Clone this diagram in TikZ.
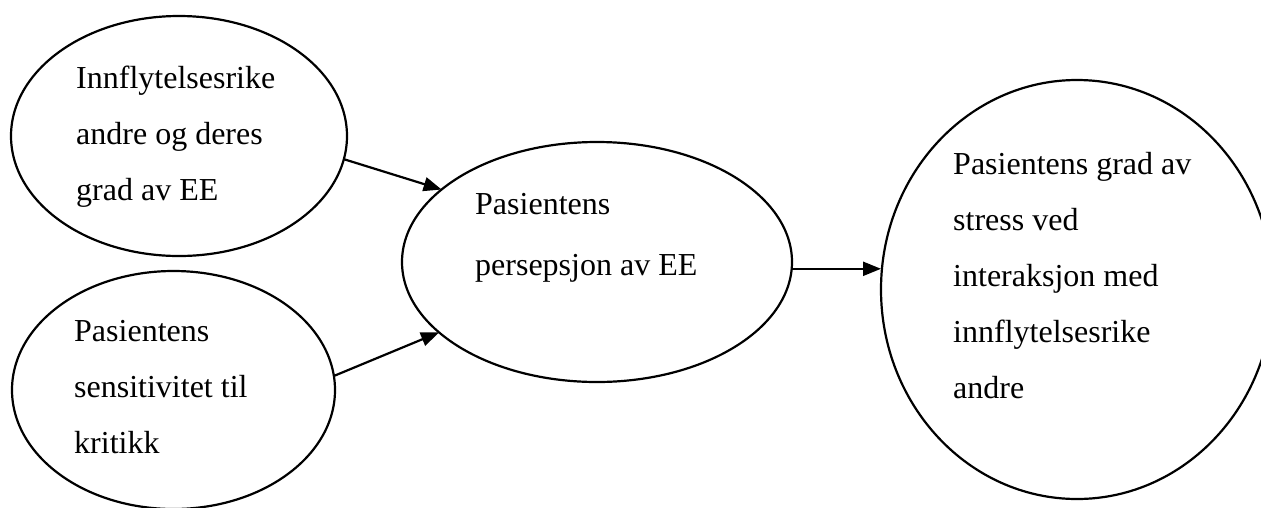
\documentclass[tikz,border=0pt]{standalone}
\usepackage{fontspec}
\setmainfont{Liberation Serif}
\usetikzlibrary{shapes.geometric,arrows.meta}
\tikzset{
  bubble/.style={draw=black, line width=2.2pt, ellipse, inner sep=0pt, outer sep=0pt},
  label/.style={anchor=base west, inner sep=0pt, align=left, font=\fontsize{32}{56}\selectfont},
  conn/.style={line width=2.2pt, -{Triangle[length=18pt,width=14pt]}}
}
\begin{document}
\begin{tikzpicture}[x=1pt,y=-1pt]
\useasboundingbox (0,0) rectangle (1261,507);
\clip (0,0) rectangle (1261,507);
\fill[white] (0,0) rectangle (1261,507);
\node[bubble, minimum width=336pt, minimum height=240pt] (e1) at (179,136) {};
\node[bubble, minimum width=323pt, minimum height=238pt] (e2) at (173.5,390) {};
\node[bubble, minimum width=390pt, minimum height=240pt] (e3) at (597,262) {};
\node[bubble, minimum width=392pt, minimum height=419pt] (e4) at (1077,289.5) {};
\node[label] (t1) at (76,200) {Innflytelsesrike\\andre og deres\\grad av EE};
\node[label] (t2) at (74,453) {Pasientens\\sensitivitet til\\kritikk};
\node[label] (t3) at (475,275) {Pasientens\\[5pt]persepsjon av EE};
\node[label] (t4) at (953,398) {Pasientens grad av\\stress ved\\interaksjon med\\innflytelsesrike\\andre};
\draw[conn] (e1.-8.2) -- (e3.155.8);
\draw[conn] (e2.5.7) -- (e3.204.9);
\draw[conn] (e3.-2.6) -- (e3.-2.6 -| e4.west);
\end{tikzpicture}
\end{document}
